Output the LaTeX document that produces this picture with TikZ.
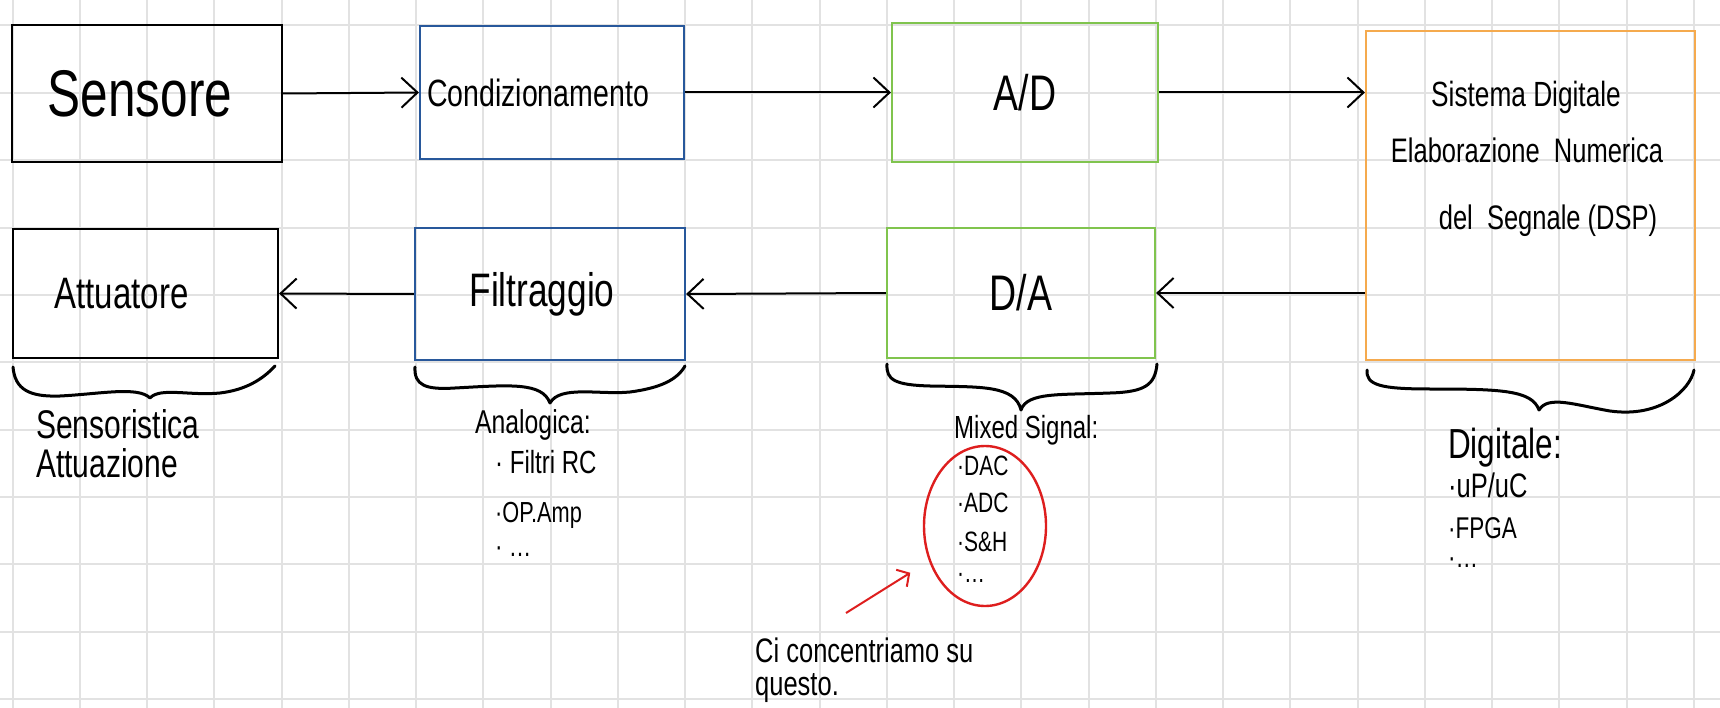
\documentclass[tikz,border=0pt]{standalone}
\usepackage{fontspec}
\setmainfont{Liberation Sans}
\newfontfamily\hand[FakeStretch=0.75]{Liberation Sans}
\usetikzlibrary{arrows.meta,shapes.geometric}
\definecolor{gridc}{RGB}{226,226,226}
\definecolor{bluec}{RGB}{40,88,155}
\definecolor{greenc}{RGB}{128,196,78}
\definecolor{orangec}{RGB}{245,170,78}
\definecolor{redc}{RGB}{222,30,30}
\newcommand{\fs}[1]{\hand\fontsize{#1}{#1}\selectfont}
\tikzset{
  gridline/.style={draw=gridc, line width=2pt},
  box/.style={draw=#1, line width=2.2pt, inner sep=0pt, anchor=center},
  arr/.style={line width=2pt, -{Straight Barb[length=16pt,width=30pt]}},
  bracepath/.style={line width=3pt, line cap=round, line join=round},
  txt/.style={inner sep=0pt, anchor=base west},
  ctxt/.style={inner sep=0pt, anchor=base},
  redarr/.style={draw=redc, line width=2pt, -{Straight Barb[length=9pt,width=20pt]}}
}
\begin{document}
\begin{tikzpicture}[x=1pt,y=-1pt]
\useasboundingbox (0,0) rectangle (1720,708);
\fill[white] (0,0) rectangle (1720,708);
\foreach \i in {0,...,25} \draw[gridline] ({12.5+\i*67.25},0) -- ({12.5+\i*67.25},708);
\foreach \j in {0,...,10} \draw[gridline] (0,{25.5+\j*67.35}) -- (1720,{25.5+\j*67.35});

% boxes
\node[box=black, minimum width=270pt, minimum height=137pt, font=\fs{66}] (sens) at (147,93.5) {Sensore\hspace*{14pt}};
\node[box=bluec, minimum width=264pt, minimum height=133pt, font=\fs{38}] (cond) at (552,92.5) {Condizionamento\hspace*{28pt}};
\node[box=greenc, minimum width=266pt, minimum height=139pt, font=\fs{50}] (ad) at (1025,92.5) {A/D};
\node[box=orangec, minimum width=329pt, minimum height=329pt] (sd) at (1530.5,195.5) {};
\node[box=black, minimum width=265pt, minimum height=129pt, font=\fs{44}] (att) at (145.5,293.5) {Attuatore\hspace*{48pt}};
\node[box=bluec, minimum width=270pt, minimum height=132pt, font=\fs{47}] (filt) at (550,294) {Filtraggio\hspace*{16pt}};
\node[box=greenc, minimum width=268pt, minimum height=130pt, font=\fs{50}] (da) at (1021,293) {D/A};

% text in digital system box
\node[ctxt, font=\fs{35}] (sd1) at (1526,107) {Sistema Digitale};
\node[ctxt, font=\fs{34}] (sd2) at (1527,163) {Elaborazione\ \ Numerica};
\node[ctxt, font=\fs{34}] (sd3) at (1548,230) {del\ \ Segnale (DSP)};

% arrows
\draw[arr] (sens.east) -- (cond.west);
\draw[arr] (cond.east) -- (ad.west);
\draw[arr] (ad.east) -- (sd.west |- ad.east);
\draw[arr] (sd.west |- da.east) -- (da.east);
\draw[arr] (da.west) -- (filt.east);
\draw[arr] (filt.west) -- (att.east);

% braces
\draw[bracepath] (13,367) .. controls (15,390) and (30,397) .. (60,396)
  .. controls (100,394) and (138,386) .. (150,398)
  .. controls (160,387) and (190,396) .. (220,393)
  .. controls (245,390) and (262,380) .. (275,366);
\draw[bracepath] (415,367) .. controls (414,385) and (425,390) .. (455,388)
  .. controls (510,385) and (542,382) .. (550,403)
  .. controls (560,385) and (600,395) .. (630,392)
  .. controls (660,388) and (677,380) .. (685,366);
\draw[bracepath] (887,364) .. controls (886,380) and (895,385) .. (930,386)
  .. controls (980,387) and (1015,385) .. (1021,410)
  .. controls (1027,392) and (1060,395) .. (1110,393)
  .. controls (1145,392) and (1155,385) .. (1157,364);
\draw[bracepath] (1367,370) .. controls (1366,385) and (1380,389) .. (1430,389)
  .. controls (1500,389) and (1532,390) .. (1539,410)
  .. controls (1548,395) and (1575,405) .. (1610,411)
  .. controls (1660,418) and (1690,390) .. (1694,370);

% labels under braces
\node[txt, font=\fs{40}] (l1a) at (36,438) {Sensoristica};
\node[txt, font=\fs{40}] (l1b) at (36,477) {Attuazione};

\node[txt, font=\fs{33}] (l2a) at (475,433) {Analogica:};
\node[txt, font=\fs{32}] (l2b) at (495,473) {· Filtri RC};
\node[txt, font=\fs{29}] (l2c) at (495,522) {·OP.Amp};
\node[txt, font=\fs{30}] (l2d) at (495,556) {· …};

\node[txt, font=\fs{32}] (l3a) at (954,438) {Mixed Signal:};
\node[txt, font=\fs{28}] (l3b) at (957,475) {·DAC};
\node[txt, font=\fs{28}] (l3c) at (957,512) {·ADC};
\node[txt, font=\fs{28}] (l3d) at (957,551) {·S\&H};
\node[txt, font=\fs{28}] (l3e) at (957,582) {·…};

\node[txt, font=\fs{42}] (l4a) at (1448,458) {Digitale:};
\node[txt, font=\fs{34}] (l4b) at (1448,497) {·uP/uC};
\node[txt, font=\fs{30}] (l4c) at (1448,538) {·FPGA};
\node[txt, font=\fs{30}] (l4d) at (1448,567) {·…};

% red highlight
\node[ellipse, draw=redc, line width=2.4pt, minimum width=122pt, minimum height=160pt, inner sep=0pt] (ell) at (985,526) {};
\coordinate (rtail) at (846,613);
\draw[redarr, shorten >=22pt] (rtail) -- (ell);

\node[txt, font=\fs{34}] (n1) at (755,662) {Ci concentriamo su};
\node[txt, font=\fs{34}] (n2) at (755,695) {questo.};
\end{tikzpicture}
\end{document}
